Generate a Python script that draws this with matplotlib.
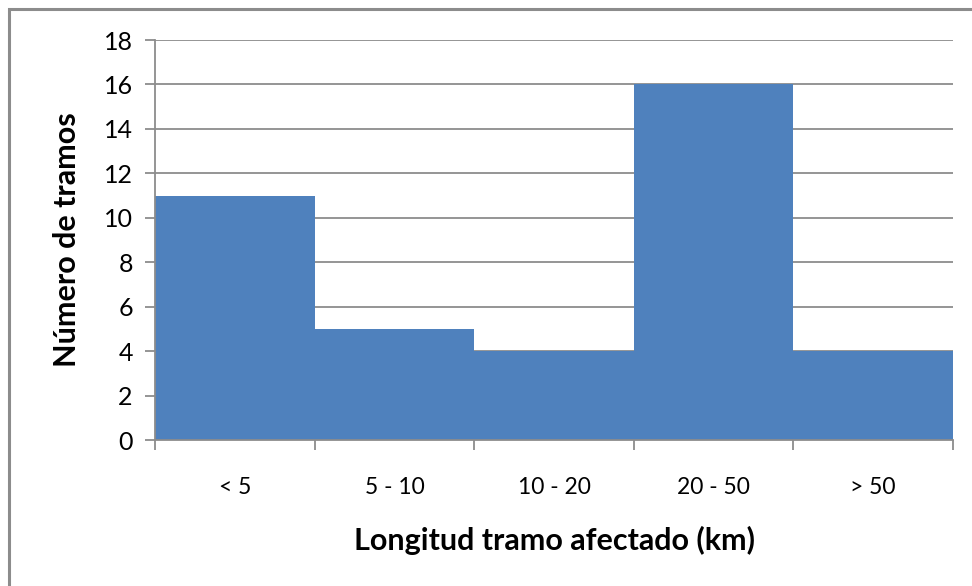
import numpy as np
import matplotlib
matplotlib.use("Agg")
from matplotlib import pyplot as plt
from matplotlib.patches import Rectangle

categories = ["< 5", "5 - 10", "10 - 20", "20 - 50", "> 50"]
counts = [11, 5, 4, 16, 4]
yticks = [0, 2, 4, 6, 8, 10, 12, 14, 16, 18]

plt.rcParams['font.family'] = ['Lato', 'DejaVu Sans']

fig = plt.figure(figsize=(9.72, 5.86), dpi=100)
# outer chart border (top and left visible, rest beyond the image)
fig.patches.append(Rectangle((9 / 972, -0.1), 1.2, 1.1 - 9 / 586, transform=fig.transFigure,
                             fill=False, edgecolor='#8c8c8c', linewidth=2.2))

ax = fig.add_axes([155 / 972, 146 / 586, 798 / 972, 400 / 586])
x = np.arange(len(categories))
ax.bar(x, counts, width=1.0, color='#4F81BD', zorder=2)

ax.set_xlim(-0.5, len(categories) - 0.5)
ax.set_ylim(0, 18)
ax.set_yticks(yticks)
ax.yaxis.grid(True, color='#8c8c8c', linewidth=1.3, zorder=0)
ax.set_axisbelow(True)

ax.set_xticks(np.arange(len(categories) + 1) - 0.5)
ax.set_xticklabels([])
ax.set_xticks(x, minor=True)
ax.set_xticklabels(categories, minor=True)
ax.tick_params(axis='x', which='minor', length=0, pad=27, labelsize=16.5)
ax.tick_params(axis='x', which='major', length=7, width=1.3, color='#8c8c8c')
ax.tick_params(axis='y', length=7, width=1.3, color='#8c8c8c', labelsize=18, pad=9)

for s in ['top', 'right']:
    ax.spines[s].set_visible(False)
for s in ['left', 'bottom']:
    ax.spines[s].set_color('#8c8c8c')
    ax.spines[s].set_linewidth(1.3)

ax.set_xlabel("Longitud tramo afectado (km)", fontsize=22, fontweight='bold', labelpad=20)
ax.set_ylabel("Número de tramos", fontsize=22, fontweight='bold', labelpad=16)

fig.savefig("out.png", dpi=100)
